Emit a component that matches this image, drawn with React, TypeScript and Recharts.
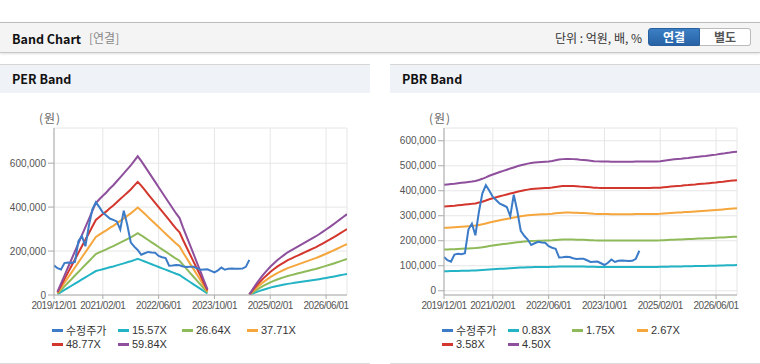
import React from 'react';
import { LineChart, Line, XAxis, YAxis, CartesianGrid } from 'recharts';

// x axis: month index from 2019/12 (0) to 2026/12 (84)
const tickMonths = [0, 14, 30, 46, 62, 78];
const tickLabels = ['2019/12/01', '2021/02/01', '2022/06/01', '2023/10/01', '2025/02/01', '2026/06/01'];

// 수정주가 (monthly, 2019/12 ~ 2024/08)
const price = [
  135000, 122000, 116000, 145000, 148000, 146000, 150000, 245000, 268000, 222000,
  315000, 390000, 422000, 400000, 375000, 362000, 348000, 342000, 335000, 298000,
  384000, 320000, 240000, 220000, 205000, 183000, 190000, 196000, 193000, 192000,
  178000, 172000, 168000, 133000, 134000, 136000, 135000, 130000, 127000, 128000,
  128000, 122000, 115000, 116000, 117000, 110000, 103000, 112000, 125000, 115000,
  120000, 121000, 120000, 119000, 120000, 128000, 160000,
];

// EPS behind the PER band (null = no band)
const perEps = [
  null, 250, 860, 1480, 2090, 2700, 3320, 3930, 4550, 5160,
  5770, 6390, 7000, 7280, 7550, 7800, 8100, 8350, 8650, 8950,
  9250, 9550, 9850, 10200, 10550, 10200, 9800, 9400, 9000, 8600,
  8200, 7800, 7400, 7000, 6600, 6200, 5850, 5130, 4460, 3790,
  3120, 2450, 1780, 1100, 430, null, null, null, null, null,
  null, null, null, null, null, null, 50, 450, 850, 1200,
  1550, 1850, 2150, 2400, 2650, 2850, 3050, 3250, 3400, 3550,
  3700, 3850, 4000, 4150, 4300, 4450, 4620, 4800, 4980, 5160,
  5350, 5550, 5750, 5950, 6150,
];
const perMultiples = [15.57, 26.64, 37.71, 48.77, 59.84];

// BPS behind the PBR band
const pbrBps = [
  94200, 94500, 94800, 95100, 95500, 95900, 96300, 96700, 97100, 97600,
  98500, 99500, 100800, 102200, 103300, 104400, 105500, 106600, 107600, 108600,
  109600, 110600, 111500, 112300, 113000, 113600, 114000, 114300, 114500, 114700,
  114900, 115300, 116000, 116600, 117000, 117100, 117100, 117000, 116800, 116500,
  116300, 116000, 115600, 115200, 115000, 114900, 114900, 114800, 114700, 114700,
  114700, 114700, 114700, 114700, 114700, 114800, 114800, 114800, 114900, 114900,
  115000, 115000, 115200, 115600, 116000, 116400, 116800, 117100, 117400, 117800,
  118100, 118500, 118800, 119200, 119500, 119800, 120200, 120600, 121000, 121500,
  121900, 122400, 122800, 123300, 123600,
];
const pbrMultiples = [0.83, 1.75, 2.67, 3.58, 4.5];

const perTicks = [0, 200000, 400000, 600000];
const pbrTicks = [0, 100000, 200000, 300000, 400000, 500000, 600000];

const priceColor = '#3b7bc8';
const bandColors = ['#22b3c4', '#8fba5a', '#f5a63c', '#d2362d', '#8e4f9c'];
const chartFont = '"Liberation Sans", Arial, "Noto Sans CJK KR", sans-serif';
const uiFont = '"Noto Sans CJK KR", "Noto Sans", sans-serif';

const buildRows = (base: (number | null)[], multiples: number[]) =>
  base.map((b, i) => {
    const row: any = { m: i, price: i < price.length ? price[i] : null };
    multiples.forEach((k, j) => {
      row['b' + j] = b == null ? null : Math.round(b * k);
    });
    return row;
  });

const perRows = buildRows(perEps, perMultiples);
const pbrRows = buildRows(pbrBps, pbrMultiples);

const legendCols = [52, 118, 182, 247];

const BandPanel = ({ left, title, rows, multiples, domain, ticks }: any) => {
  const labels = ['수정주가', ...multiples.map((k: number) => k.toFixed(2) + 'X')];
  const colors = [priceColor, ...bandColors];
  return (
    <div style={{ position: 'absolute', left, top: 64, width: 370, height: 299, borderBottom: '1px solid #dcdcdc', background: '#fff' }}>
      <div style={{ height: 28, borderTop: '1px solid #d6d6d6', background: '#eff2f7', fontFamily: uiFont, fontWeight: 700, fontSize: 12.5, color: '#111', lineHeight: '28px', paddingLeft: 12 }}>
        {title}
      </div>
      <div style={{ position: 'absolute', left: 39, top: 45, fontFamily: uiFont, fontSize: 12, color: '#666', letterSpacing: 1 }}>(원)</div>
      <div style={{ position: 'absolute', left: 0, top: 29 }}>
        <LineChart width={370} height={230} data={rows} margin={{ top: 35, right: 23, bottom: 0, left: 0 }}>
          <CartesianGrid stroke="#e6e6e6" />
          <XAxis
            dataKey="m"
            type="number"
            domain={[0, 84]}
            ticks={tickMonths}
            allowDataOverflow
            height={28}
            stroke="#aaa"
            tickSize={4}
            tickMargin={3}
            tick={{ fontSize: 10, fill: '#555', fontFamily: chartFont, style: { letterSpacing: -0.5 } }}
            tickFormatter={(v: number) => tickLabels[tickMonths.indexOf(v)] ?? ''}
            interval={0}
          />
          <XAxis xAxisId="top" dataKey="m" type="number" domain={[0, 84]} orientation="top" height={0} tick={false} tickLine={false} stroke="#bbb" />
          <YAxis
            type="number"
            domain={domain}
            ticks={ticks}
            allowDataOverflow
            width={54}
            stroke="#aaa"
            tickSize={6}
            tickMargin={2}
            tick={{ fontSize: 10, fill: '#555', fontFamily: chartFont }}
            tickFormatter={(v: number) => v.toLocaleString('en-US')}
            interval={0}
          />
          <YAxis yAxisId="right" orientation="right" width={0} tick={false} tickLine={false} stroke="#bbb" domain={domain} />
          {bandColors.map((c, j) => (
            <Line key={j} dataKey={'b' + j} stroke={c} strokeWidth={2} dot={false} isAnimationActive={false} />
          ))}
          <Line dataKey="price" stroke={priceColor} strokeWidth={2} dot={false} isAnimationActive={false} />
        </LineChart>
      </div>
      {labels.map((t, i) => (
        <div
          key={t}
          style={{ position: 'absolute', left: legendCols[i % 4], top: 259 + Math.floor(i / 4) * 14, height: 14, display: 'flex', alignItems: 'center', fontFamily: chartFont, fontSize: 11, color: '#333', whiteSpace: 'nowrap' }}
        >
          <span style={{ display: 'inline-block', width: 11, height: 3, background: colors[i], marginRight: 3 }} />
          {t}
        </div>
      ))}
    </div>
  );
};

export default function App() {
  return (
    <div style={{ position: 'absolute', left: 0, top: 0, width: 760, height: 364, overflow: 'hidden', background: '#fff' }}>
      <div style={{ position: 'absolute', left: 0, top: 22, width: 760, height: 29, borderTop: '1px solid #bcbcbc', borderBottom: '1px solid #c8c8c8', background: '#f4f4f4', boxShadow: '0 1px 2px rgba(0,0,0,0.12)' }}>
        <span style={{ position: 'absolute', left: 12, top: 6, fontFamily: uiFont, fontWeight: 700, fontSize: 12.5, color: '#111' }}>Band Chart</span>
        <span style={{ position: 'absolute', left: 89, top: 6, fontFamily: uiFont, fontSize: 12, color: '#888' }}>[연결]</span>
        <span style={{ position: 'absolute', right: 118, top: 6, fontFamily: uiFont, fontSize: 12, color: '#333' }}>단위 : 억원, 배, %</span>
        <div style={{ position: 'absolute', left: 648, top: 5, width: 52, height: 18, borderRadius: '3px 0 0 3px', background: 'linear-gradient(#3b7fc4, #2862a6)', border: '1px solid #2a5f9e', boxSizing: 'border-box', color: '#fff', fontFamily: uiFont, fontWeight: 700, fontSize: 12, textAlign: 'center', lineHeight: '16px' }}>연결</div>
        <div style={{ position: 'absolute', left: 700, top: 5, width: 51, height: 18, borderRadius: '0 3px 3px 0', background: '#fff', border: '1px solid #bbb', borderLeft: 'none', boxSizing: 'border-box', color: '#555', fontFamily: uiFont, fontWeight: 700, fontSize: 12, textAlign: 'center', lineHeight: '16px' }}>별도</div>
      </div>
      <BandPanel left={0} title="PER Band" rows={perRows} multiples={perMultiples} domain={[0, 760000]} ticks={perTicks} />
      <BandPanel left={390} title="PBR Band" rows={pbrRows} multiples={pbrMultiples} domain={[-17000, 651000]} ticks={pbrTicks} />
    </div>
  );
}
